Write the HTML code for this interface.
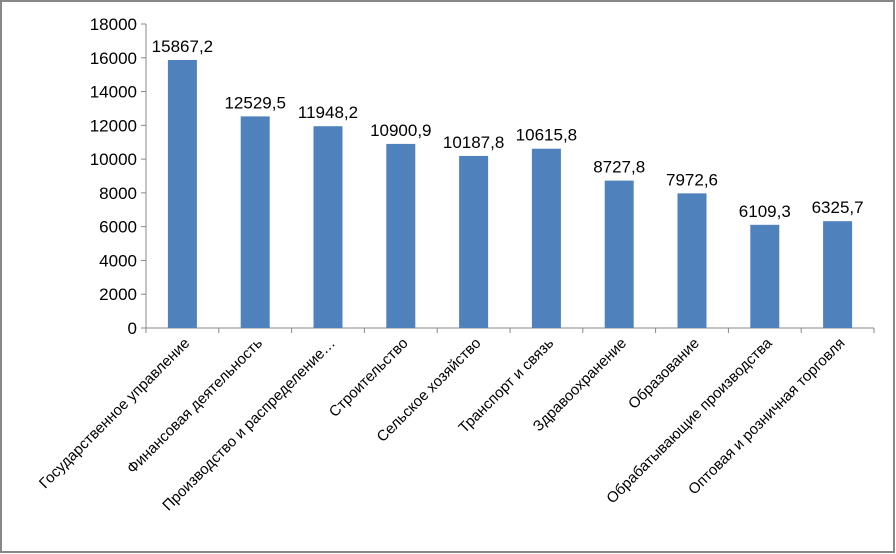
<!DOCTYPE html>
<html><head><meta charset="utf-8"><style>
body{margin:0;background:#fff}
svg{display:block;font-family:"Liberation Sans","DejaVu Sans",sans-serif}
</style></head><body>
<svg id="c" width="896" height="554">
<rect x="1" y="1" width="893" height="551" fill="#fff" stroke="#888" stroke-width="2"/>
<g id="g"></g>
</svg>
<script>
const categories=["Государственное управление","Финансовая деятельность","Производство и распределение…","Строительство","Сельское хозяйство","Транспорт и связь","Здравоохранение","Образование","Обрабатывающие производства","Оптовая и розничная торговля"];
const values=[15867.2,12529.5,11948.2,10900.9,10187.8,10615.8,8727.8,7972.6,6109.3,6325.7];
const valueLabels=["15867,2","12529,5","11948,2","10900,9","10187,8","10615,8","8727,8","7972,6","6109,3","6325,7"];
const yTicks=[0,2000,4000,6000,8000,10000,12000,14000,16000,18000];
const NS="http://www.w3.org/2000/svg",g=document.getElementById('g');
const x0=146,x1=874,y0=328,yTop=24,yMax=18000;
const y=v=>y0-(v/yMax)*(y0-yTop);
const bw=(x1-x0)/categories.length;
const xc=i=>x0+bw*(i+0.5);
function mk(t,a,txt){const e=document.createElementNS(NS,t);for(const k in a)e.setAttribute(k,a[k]);if(txt!=null)e.textContent=txt;g.appendChild(e);return e;}
let e=mk('line',{x1:x0,y1:yTop,x2:x0,y2:y0,stroke:'#888'});


yTicks.forEach(t=>{
 let l=mk('line',{x1:x0-5,y1:y(t),x2:x0,y2:y(t),stroke:'#888'});
 
 
 let s=mk('text',{x:x0-9,y:y(t)+6,'text-anchor':'end','font-size':17},String(t));
 
 
});
e=mk('line',{x1:x0,y1:y0,x2:x1,y2:y0,stroke:'#888'});


for(let i=0;i<=categories.length;i++){
 let l=mk('line',{x1:x0+bw*i,y1:y0,x2:x0+bw*i,y2:y0+5,stroke:'#888'});
 
 
}
categories.forEach((c,i)=>{
 let r=mk('rect',{x:xc(i)-14.5,y:y(values[i]),width:29,height:y0-y(values[i]),fill:'#4f81bd'});
 
 
 let v=mk('text',{x:xc(i),y:y(values[i])-8,'text-anchor':'middle','font-size':17},valueLabels[i]);
 
 
 let t=mk('text',{x:xc(i)+8,y:y0+16,'text-anchor':'end','font-size':15,transform:`rotate(-45 ${xc(i)+8} ${y0+16})`},c);
 
 
});
</script>
</body></html>
